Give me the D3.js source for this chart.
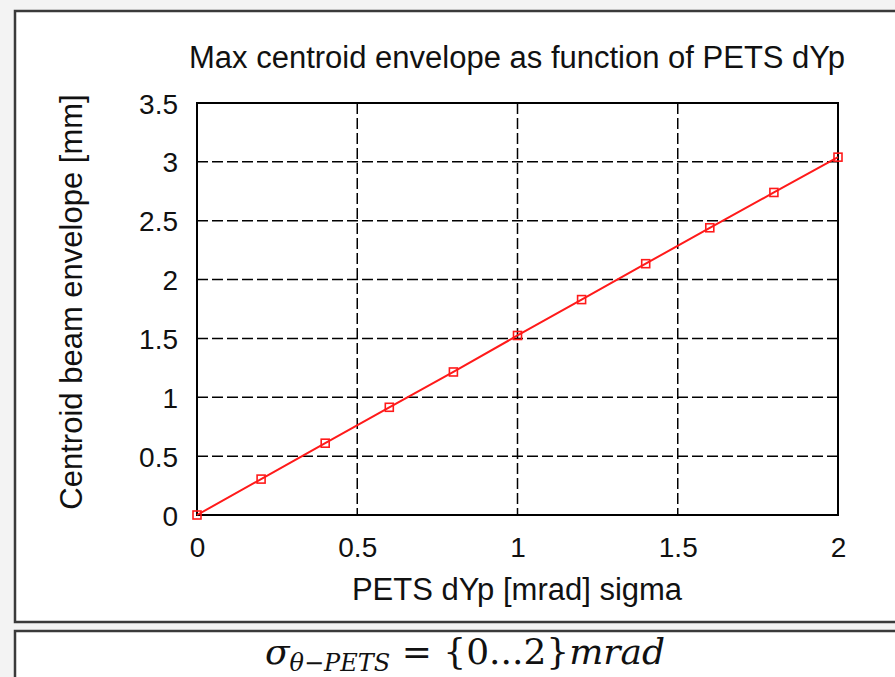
<!DOCTYPE html>
<html>
<head>
<meta charset="utf-8">
<script src="https://cdn.jsdelivr.net/npm/d3@7"></script>
<style>
  html, body { margin: 0; padding: 0; background: #f3f3f3; }
  svg { display: block; }
</style>
</head>
<body>
<svg id="chart" width="895" height="677"></svg>
<script>
// Beam divergence in the PETS (mrad, sigma)
const dypSigma = [0, 0.2, 0.4, 0.6, 0.8, 1.0, 1.2, 1.4, 1.6, 1.8, 2.0];
// Max centroid beam envelope (mm)
const envelope = [0, 0.305, 0.61, 0.915, 1.215, 1.525, 1.83, 2.135, 2.44, 2.74, 3.04];

const xTicks = [0, 0.5, 1, 1.5, 2];
const yTicks = [0, 0.5, 1, 1.5, 2, 2.5, 3, 3.5];

const chartTitle = "Max centroid envelope as function of PETS dYp";
const xLabel = "PETS dYp [mrad] sigma";
const yLabel = "Centroid beam envelope [mm]";

const svg = d3.select("#chart");
const font = "'Liberation Sans', Arial, sans-serif";

// framed panels
svg.append("rect").attr("x", 15).attr("y", 11).attr("width", 900).attr("height", 611)
  .attr("fill", "#fff").attr("stroke", "#3a3a3a").attr("stroke-width", 2.5);
svg.append("rect").attr("x", 15).attr("y", 631).attr("width", 900).attr("height", 80)
  .attr("fill", "#fff").attr("stroke", "#3a3a3a").attr("stroke-width", 2.5);

const plot = { left: 197, right: 838, top: 103, bottom: 515 };
const x = d3.scaleLinear().domain([0, 2]).range([plot.left, plot.right]);
const y = d3.scaleLinear().domain([0, 3.5]).range([plot.bottom, plot.top]);

const g = svg.append("g");

// dashed grid
g.append("g").selectAll("line").data(xTicks.slice(1, -1)).join("line")
  .attr("x1", d => x(d)).attr("x2", d => x(d))
  .attr("y1", plot.top).attr("y2", plot.bottom)
  .attr("stroke", "#000").attr("stroke-width", 1.5).attr("stroke-dasharray", "11,4");
g.append("g").selectAll("line").data(yTicks.slice(1, -1)).join("line")
  .attr("x1", plot.left).attr("x2", plot.right)
  .attr("y1", d => y(d)).attr("y2", d => y(d))
  .attr("stroke", "#000").attr("stroke-width", 1.5).attr("stroke-dasharray", "11,4");

// axes (labels only; frame drawn separately)
const xAxis = d3.axisBottom(x).tickValues(xTicks).tickSize(0).tickPadding(22)
  .tickFormat(d3.format("~g"));
const yAxis = d3.axisLeft(y).tickValues(yTicks).tickSize(0).tickPadding(19)
  .tickFormat(d3.format("~g"));

const gx = g.append("g").attr("transform", `translate(0,${plot.bottom})`).call(xAxis);
const gy = g.append("g").attr("transform", `translate(${plot.left},0)`).call(yAxis);
[gx, gy].forEach(a => {
  a.select(".domain").remove();
  a.selectAll("text").attr("font-family", font).attr("font-size", 28).attr("fill", "#111");
});
gx.selectAll("text").attr("dy", "0.71em");
gy.selectAll("text").attr("dy", "0.36em");

// plot frame
g.append("rect").attr("x", plot.left).attr("y", plot.top)
  .attr("width", plot.right - plot.left).attr("height", plot.bottom - plot.top)
  .attr("fill", "none").attr("stroke", "#000").attr("stroke-width", 2);

// data line and square markers
const line = d3.line().x((d, i) => x(dypSigma[i])).y(d => y(d));
g.append("path").datum(envelope).attr("d", line)
  .attr("fill", "none").attr("stroke", "#ff1a1a").attr("stroke-width", 2);
g.append("g").selectAll("rect").data(envelope).join("rect")
  .attr("x", (d, i) => x(dypSigma[i]) - 4).attr("y", d => y(d) - 4)
  .attr("width", 8).attr("height", 8)
  .attr("fill", "none").attr("stroke", "#ff1a1a").attr("stroke-width", 1.6);

// titles
svg.append("text").attr("x", 517).attr("y", 68).attr("text-anchor", "middle")
  .attr("font-family", font).attr("font-size", 31).attr("fill", "#111").text(chartTitle);
svg.append("text").attr("x", 517).attr("y", 600).attr("text-anchor", "middle")
  .attr("font-family", font).attr("font-size", 31).attr("fill", "#111").text(xLabel);
svg.append("text").attr("transform", "translate(82,302) rotate(-90)").attr("text-anchor", "middle")
  .attr("font-family", font).attr("font-size", 31).attr("fill", "#111").text(yLabel);

// parameter range formula
const f = svg.append("text").attr("x", 465).attr("y", 664).attr("text-anchor", "middle")
  .attr("font-family", "'DejaVu Serif', 'Liberation Serif', serif").attr("font-size", 36).attr("fill", "#111");
f.append("tspan").attr("font-style", "italic").text("σ");
f.append("tspan").attr("font-style", "italic").attr("font-size", 24).attr("dy", 7).text("θ−PETS");
f.append("tspan").attr("dy", -7).text(" = {0...2}");
f.append("tspan").attr("font-style", "italic").text("mrad");
</script>
</body>
</html>
